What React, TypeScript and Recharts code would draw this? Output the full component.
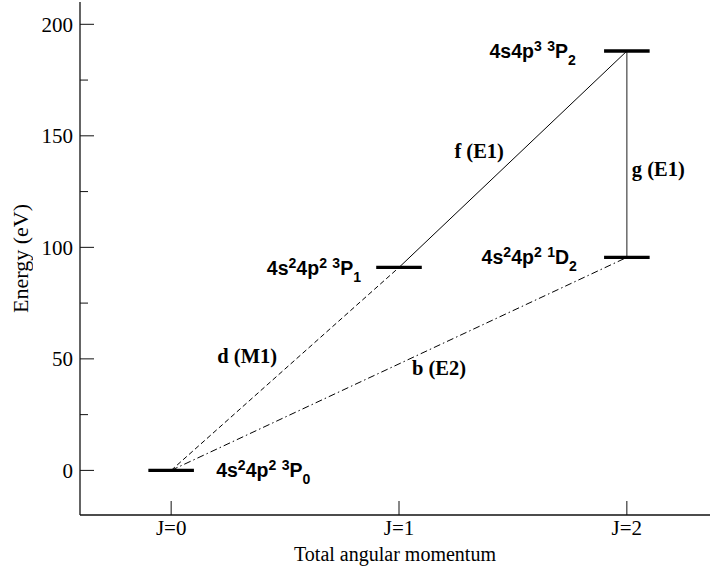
import React from 'react';
import { ComposedChart, Line, XAxis, YAxis, ReferenceDot, Label } from 'recharts';

// Energy levels: total angular momentum J and energy (eV)
const levelJ = [0, 1, 2, 2];
const levelEnergy = [0, 91, 188, 95.5];
const levelNames = [
  '4s^{2}4p^{2} ^{3}P_{0}',
  '4s^{2}4p^{2} ^{3}P_{1}',
  '4s4p^{3} ^{3}P_{2}',
  '4s^{2}4p^{2} ^{1}D_{2}',
];

// Transitions between levels (indices into the level arrays)
const transitionNames = ['d (M1)', 'f (E1)', 'b (E2)', 'g (E1)'];
const transitionFrom = [0, 1, 0, 3];
const transitionTo = [1, 2, 3, 2];

// Axis ticks
const jTicks = [0, 1, 2];
const energyTicks = [0, 25, 50, 75, 100, 125, 150, 175, 200];
const energyMajorStep = 50;

const LEVEL_HALF = 0.1;
const SERIF = '"Liberation Serif", "Times New Roman", serif';
const SANS = '"Liberation Sans", Arial, sans-serif';
const AXIS_COLOR = '#111';

// label placement for each level: anchor side and pixel offsets
const levelLabelStyle = [
  { anchor: 'start', dx: 45, dy: 7 },
  { anchor: 'end', dx: -38, dy: 8 },
  { anchor: 'end', dx: -51, dy: 7 },
  { anchor: 'end', dx: -50, dy: 7 },
];
const transitionLabelStyle = [
  { anchor: 'end', dx: -8, dy: -6 },
  { anchor: 'end', dx: -9, dy: -1 },
  { anchor: 'start', dx: 13, dy: 11 },
  { anchor: 'start', dx: 5, dy: 22 },
];
const transitionStroke = [
  { dash: '5 3', color: '#000', width: 1 },
  { dash: undefined, color: '#000', width: 1 },
  { dash: '7 3 1.5 3', color: '#000', width: 1 },
  { dash: undefined, color: '#444', width: 1.2 },
];

type Part = { t: string; k: 'n' | 'sup' | 'sub' };

function parseFormula(s: string): Part[] {
  const out: Part[] = [];
  const re = /(\^\{[^}]*\}|_\{[^}]*\}|[^^_]+)/g;
  let m: RegExpExecArray | null;
  while ((m = re.exec(s))) {
    const tok = m[1];
    if (tok.startsWith('^{')) out.push({ t: tok.slice(2, -1), k: 'sup' });
    else if (tok.startsWith('_{')) out.push({ t: tok.slice(2, -1), k: 'sub' });
    else out.push({ t: tok, k: 'n' });
  }
  return out;
}

function Formula({ x, y, text, anchor, size }: { x: number; y: number; text: string; anchor: string; size: number }) {
  const parts = parseFormula(text);
  const small = size * 0.72;
  const raise = size * 0.38;
  const drop = size * 0.36;
  let cur = 0;
  return (
    <text
      x={x}
      y={y}
      textAnchor={anchor as any}
      style={{ fontFamily: SANS, fontWeight: 'bold', fontSize: size, fill: '#000' }}
    >
      {parts.map((p, i) => {
        const target = p.k === 'sup' ? -raise : p.k === 'sub' ? drop : 0;
        const dy = target - cur;
        cur = target;
        return (
          <tspan key={i} dy={dy} style={{ fontSize: p.k === 'n' ? size : small, whiteSpace: 'pre' }}>
            {p.t}
          </tspan>
        );
      })}
    </text>
  );
}

const levelSeries = levelJ.map((j, i) => [
  { x: j - LEVEL_HALF, y: levelEnergy[i] },
  { x: j + LEVEL_HALF, y: levelEnergy[i] },
]);

const transitionSeries = transitionFrom.map((from, i) => [
  { x: levelJ[from], y: levelEnergy[from] },
  { x: levelJ[transitionTo[i]], y: levelEnergy[transitionTo[i]] },
]);

const serifText = (size: number) => ({ fontFamily: SERIF, fontSize: size, fill: '#000' });

const YTick = (props: any) => {
  const { x, y, payload } = props;
  const major = payload.value % energyMajorStep === 0;
  return (
    <g>
      <line x1={x} x2={x + (major ? 14 : 8)} y1={y} y2={y} stroke={AXIS_COLOR} strokeWidth={1} />
      {major && (
        <text x={x - 7} y={y} dy="0.35em" textAnchor="end" style={serifText(21)}>
          {payload.value}
        </text>
      )}
    </g>
  );
};

const YTickRight = (props: any) => {
  const { x, y, payload } = props;
  const major = payload.value % energyMajorStep === 0;
  return <line x1={x} x2={x - (major ? 14 : 8)} y1={y} y2={y} stroke={AXIS_COLOR} strokeWidth={1} />;
};

const XTick = (props: any) => {
  const { x, y, payload } = props;
  return (
    <g>
      <line x1={x} x2={x} y1={y} y2={y - 14} stroke={AXIS_COLOR} strokeWidth={1} />
      <text x={x} y={y + 20} textAnchor="middle" style={serifText(21)}>
        {`J=${payload.value}`}
      </text>
    </g>
  );
};

const XTitle = (props: any) => {
  const vb = props.viewBox || {};
  return (
    <text x={vb.x + vb.width / 2 - 4} y={vb.y + 46} textAnchor="middle" style={serifText(20)}>
      Total angular momentum
    </text>
  );
};

// rotated title drawn inside a semi-transparent group so it gets grayscale antialiasing
const YTitle = (props: any) => {
  const vb = props.viewBox || {};
  const cx = 28;
  const cy = vb.y + vb.height / 2;
  return (
    <g transform={`translate(${cx} ${cy}) rotate(-90)`} opacity={0.995}>
      <text x={0} y={0} textAnchor="middle" style={serifText(22)}>
        Energy (eV)
      </text>
    </g>
  );
};

export default function App() {
  return (
    <div style={{ position: 'absolute', left: 0, top: 0, width: 710, height: 577, overflow: 'hidden', background: '#fff' }}>
      <ComposedChart width={730} height={577} margin={{ top: 2, right: 0, bottom: 2, left: 0 }}>
        <XAxis
          dataKey="x"
          type="number"
          domain={[-0.4, 2.4]}
          ticks={jTicks}
          interval={0}
          allowDataOverflow
          height={60}
          tickSize={0}
          tickMargin={0}
          tickLine={false}
          tick={<XTick />}
          axisLine={{ stroke: AXIS_COLOR, strokeWidth: 1.3 }}
          label={<Label content={<XTitle />} />}
        />
        <XAxis
          xAxisId="top"
          orientation="top"
          type="number"
          domain={[-0.4, 2.4]}
          height={0}
          tick={false}
          tickLine={false}
          axisLine={{ stroke: AXIS_COLOR, strokeWidth: 1.3 }}
        />
        <YAxis
          type="number"
          domain={[-20, 210]}
          ticks={energyTicks}
          interval={0}
          allowDataOverflow
          width={80}
          tickSize={0}
          tickMargin={0}
          tickLine={false}
          tick={<YTick />}
          axisLine={{ stroke: AXIS_COLOR, strokeWidth: 1.3 }}
          label={<Label content={<YTitle />} />}
        />
        <YAxis
          yAxisId="right"
          orientation="right"
          type="number"
          domain={[-20, 210]}
          ticks={energyTicks}
          interval={0}
          width={12}
          tickSize={0}
          tickMargin={0}
          tickLine={false}
          tick={<YTickRight />}
          axisLine={{ stroke: AXIS_COLOR, strokeWidth: 1.3 }}
        />

        {transitionSeries.map((d, i) => (
          <Line
            key={`t${i}`}
            data={d}
            dataKey="y"
            type="linear"
            stroke={transitionStroke[i].color}
            strokeWidth={transitionStroke[i].width}
            strokeDasharray={transitionStroke[i].dash}
            dot={false}
            activeDot={false}
            isAnimationActive={false}
          />
        ))}
        {levelSeries.map((d, i) => (
          <Line
            key={`l${i}`}
            data={d}
            dataKey="y"
            type="linear"
            stroke="#000"
            strokeWidth={3.4}
            dot={false}
            activeDot={false}
            isAnimationActive={false}
          />
        ))}

        {levelNames.map((name, i) => (
          <ReferenceDot
            key={`ll${i}`}
            x={levelJ[i]}
            y={levelEnergy[i]}
            r={0}
            shape={(p: any) => (
              <Formula
                x={p.cx + levelLabelStyle[i].dx}
                y={p.cy + levelLabelStyle[i].dy}
                text={name}
                anchor={levelLabelStyle[i].anchor}
                size={19.5}
              />
            )}
          />
        ))}
        {transitionNames.map((name, i) => {
          const a = transitionFrom[i];
          const b = transitionTo[i];
          const mx = (levelJ[a] + levelJ[b]) / 2;
          const my = (levelEnergy[a] + levelEnergy[b]) / 2;
          const st = transitionLabelStyle[i];
          return (
            <ReferenceDot
              key={`tl${i}`}
              x={mx}
              y={my}
              r={0}
              shape={(p: any) => (
                <text
                  x={p.cx + st.dx}
                  y={p.cy + st.dy}
                  textAnchor={st.anchor as any}
                  style={{ fontFamily: SERIF, fontWeight: 'bold', fontSize: 20.5, fill: '#000' }}
                >
                  {name}
                </text>
              )}
            />
          );
        })}
      </ComposedChart>
    </div>
  );
}
